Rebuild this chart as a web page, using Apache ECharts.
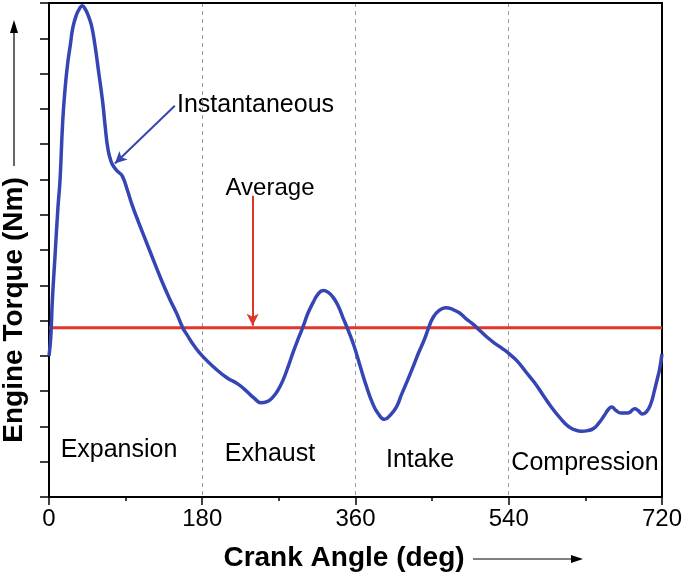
<!DOCTYPE html>
<html>
<head>
<meta charset="utf-8">
<script src="https://cdn.jsdelivr.net/npm/echarts@6/dist/echarts.min.js"></script>
<style>html,body{margin:0;padding:0;background:#fff;}#c{width:685px;height:576px;}</style>
</head>
<body>
<div id="c"></div>
<script>
// Crank angle (deg) for the instantaneous torque trace
const crankAngle = [0,2,4,7,10.5,13,16,19,22,25,28,32,36,39,42,46,50,54,58,63,66,69,73,77,81,86,92,98,105,118,132,142,150,157,162,170,180,195,209,222,232,241,249,256,263,269,275,281,287,293,298,304,310,316,322,328,334,340,345,351,358,365,372,380,387,394,400,408,414,421,427,434,441,446,451,458,466,474,482,490,498,506,515,525,533,541,550,560,570,580,590,600,610,618,625,633,640,646,652,657,661,666,672,680,688,692,697,702,707,711,714,717,720];
// Instantaneous engine torque (relative units, axis 0..14)
const torque = [4.0,4.5,5.6,6.8,8.2,9.0,10.6,11.6,12.3,12.8,13.3,13.65,13.85,13.92,13.85,13.65,13.35,12.8,12.1,11.2,10.5,9.9,9.5,9.33,9.22,9.1,8.7,8.25,7.8,7.0,6.15,5.6,5.2,4.8,4.6,4.3,4.0,3.65,3.38,3.2,3.0,2.8,2.67,2.7,2.83,3.03,3.32,3.7,4.12,4.5,4.8,5.2,5.5,5.75,5.85,5.8,5.65,5.4,5.1,4.75,4.3,3.75,3.2,2.66,2.35,2.2,2.3,2.55,2.9,3.3,3.65,4.08,4.47,4.8,5.08,5.28,5.36,5.32,5.22,5.05,4.9,4.72,4.52,4.33,4.2,4.05,3.85,3.55,3.25,2.9,2.55,2.25,2.0,1.9,1.86,1.88,1.95,2.1,2.3,2.48,2.55,2.45,2.38,2.38,2.5,2.45,2.35,2.42,2.65,3.0,3.3,3.6,4.05];
// Average torque line
const avgAngle = [0,720];
const avgTorque = [4.8,4.8];
// Axis ticks
const xTicks = [0,180,360,540,720];
const phaseNames = ['Expansion','Exhaust','Intake','Compression'];
// Annotation arrows (data coords: [angle, torque])
const instArrow = [[147.8,11.09],[77.4,9.45]];
const avgArrow = [[239.2,8.54],[239.2,4.85]];

const instData = crankAngle.map((a,i)=>[a,torque[i]]);
const avgData = avgAngle.map((a,i)=>[a,avgTorque[i]]);

const chart = echarts.init(document.getElementById('c'));
const FONT = 'Liberation Sans';
const frameAxis = {show:true,onZero:false,lineStyle:{color:'#000',width:2}};
chart.setOption({
  animation:false,
  grid:{left:49,right:22,top:3,bottom:79},
  xAxis:[{
    type:'value',min:xTicks[0],max:xTicks[xTicks.length-1],interval:180,
    axisLine:frameAxis,
    axisTick:{show:true,inside:false,length:8,lineStyle:{color:'#000',width:1.5}},
    minorTick:{show:true,splitNumber:2,length:4,lineStyle:{color:'#000',width:1.5}},
    axisLabel:{color:'#000',fontFamily:FONT,fontSize:24,margin:10},
    splitLine:{show:true,lineStyle:{color:'#999',type:[4,4],width:1}}
  },{
    type:'value',position:'top',min:0,max:720,
    axisLine:frameAxis,axisTick:{show:false},axisLabel:{show:false},splitLine:{show:false}
  }],
  yAxis:[{
    type:'value',min:0,max:14,interval:1,
    axisLine:frameAxis,
    axisTick:{show:true,inside:false,length:9,lineStyle:{color:'#000',width:1.5}},
    axisLabel:{show:false},
    splitLine:{show:false}
  },{
    type:'value',position:'right',min:0,max:14,
    axisLine:frameAxis,axisTick:{show:false},axisLabel:{show:false},splitLine:{show:false}
  }],
  series:[
    {
      name:'Average',type:'line',data:avgData,showSymbol:false,
      lineStyle:{color:'#e3342a',width:3},z:3,
      markLine:{silent:true,symbol:['none','arrow'],symbolSize:[9,12],
        label:{show:false},lineStyle:{color:'#e3342a',width:2,type:'solid'},
        data:[[{coord:avgArrow[0]},{coord:avgArrow[1]}]]}
    },
    {
      name:'Instantaneous',type:'line',data:instData,showSymbol:false,
      smooth:0.5,
      lineStyle:{color:'#3545b3',width:3.5},z:4,
      markLine:{silent:true,symbol:['none','arrow'],symbolSize:[9,12],
        label:{show:false},lineStyle:{color:'#3545b3',width:2,type:'solid'},
        data:[[{coord:instArrow[0]},{coord:instArrow[1]}]]}
    }
  ],
  graphic:[
    {type:'text',x:119,y:450,style:{text:phaseNames[0],font:'25px '+FONT,fill:'#000',textAlign:'center',textVerticalAlign:'middle'}},
    {type:'text',x:270,y:454,style:{text:phaseNames[1],font:'25px '+FONT,fill:'#000',textAlign:'center',textVerticalAlign:'middle'}},
    {type:'text',x:420,y:460,style:{text:phaseNames[2],font:'25px '+FONT,fill:'#000',textAlign:'center',textVerticalAlign:'middle'}},
    {type:'text',x:585,y:463,style:{text:phaseNames[3],font:'25px '+FONT,fill:'#000',textAlign:'center',textVerticalAlign:'middle'}},
    {type:'text',x:177,y:105,style:{text:'Instantaneous',font:'25px '+FONT,fill:'#000',textAlign:'left',textVerticalAlign:'middle'}},
    {type:'text',x:270,y:188,style:{text:'Average',font:'24px '+FONT,fill:'#000',textAlign:'center',textVerticalAlign:'middle'}},
    {type:'text',x:344,y:558,style:{text:'Crank Angle (deg)',font:'bold 28px '+FONT,fill:'#000',textAlign:'center',textVerticalAlign:'middle'}},
    {type:'line',shape:{x1:473,y1:559,x2:572,y2:559},style:{stroke:'#000',lineWidth:1}},
    {type:'polygon',shape:{points:[[583,559],[571,555],[571,563]]},style:{fill:'#000'}},
    {type:'text',x:14,y:310,rotation:Math.PI/2,style:{text:'Engine Torque (Nm)',font:'bold 28px '+FONT,fill:'#000',textAlign:'center',textVerticalAlign:'middle'}},
    {type:'line',shape:{x1:14,y1:166,x2:14,y2:32},style:{stroke:'#000',lineWidth:1.2}},
    {type:'polygon',shape:{points:[[14,20],[10,33],[18,33]]},style:{fill:'#000'}}
  ]
});
</script>
</body>
</html>
